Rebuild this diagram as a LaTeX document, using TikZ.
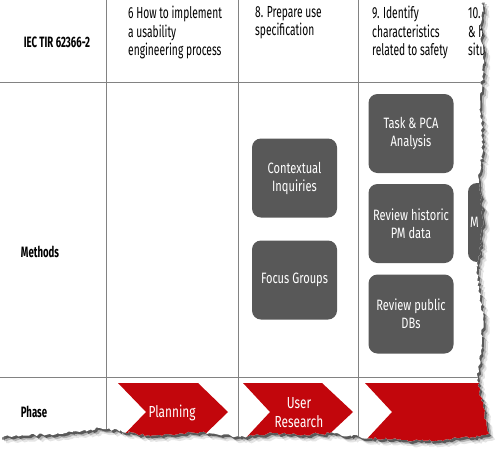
\documentclass[tikz,border=0pt]{standalone}
\usepackage{fontspec}
\setmainfont{Fira Sans}[FakeStretch=0.74]
\newfontfamily\hdrfont{Fira Sans}[FakeStretch=0.64]
\newfontfamily\lblfont{Fira Sans}[FakeStretch=0.64]
\usetikzlibrary{decorations.pathmorphing}
\definecolor{boxgray}{RGB}{88,88,88}
\definecolor{phasered}{RGB}{194,6,12}
\definecolor{gridgray}{RGB}{130,130,130}
\tikzset{
  grid/.style={draw=gridgray, line width=0.9pt},
  hdr/.style={anchor=north west, inner sep=0pt, align=left,
    font=\hdrfont\fontsize{16}{18.5}\selectfont},
  lbl/.style={inner sep=0pt, font=\lblfont\bfseries\fontsize{15}{18}\selectfont},
  mbox/.style={rounded corners=9pt, fill=boxgray, text=white, minimum width=85pt,
    minimum height=79pt, align=center, inner sep=2pt, font=\fontsize{15}{18}\selectfont},
  chev/.style={fill=phasered},
  ptext/.style={text=white, align=center, inner sep=0pt, font=\fontsize{16}{19}\selectfont},
}
\begin{document}
\begin{tikzpicture}[x=1pt,y=-1pt]
\useasboundingbox (0,0) rectangle (497,450);
\pgfmathsetseed{4711}
\path[save path=\paperpath] (0,0) -- (483,0)
  decorate[decoration={random steps,segment length=2.6pt,amplitude=1.5pt}]{
   -- (481,30) -- (484,60) -- (480,100) -- (483,140) -- (479,180) -- (483,220)
   -- (480,250) -- (477,270) -- (483,320) -- (481,350) -- (477,380) -- (483,407)
   -- (488,434) -- (473,437) -- (440,440) -- (407,440) -- (360,437) -- (330,433)
   -- (300,435) -- (273,433) -- (240,437) -- (200,432) -- (150,436) -- (100,428)
   -- (60,434) -- (30,435) -- (0,437)} -- cycle;
% shadow
\begin{scope}[transform canvas={shift={(6pt,-6pt)}}]
  \fill[black,opacity=0.10,use path=\paperpath];
\end{scope}
\begin{scope}[transform canvas={shift={(4pt,-4pt)}}]
  \fill[black,opacity=0.22,use path=\paperpath];
\end{scope}
\begin{scope}[transform canvas={shift={(2pt,-2.5pt)}}]
  \fill[black,opacity=0.50,use path=\paperpath];
\end{scope}
\fill[white,use path=\paperpath];
\begin{scope}
\clip[use path=\paperpath];
% grid
\draw[grid] (0,82) -- (497,82);
\draw[grid] (0,377) -- (497,377);
\draw[grid] (106,0) -- (106,450);
\draw[grid] (238,0) -- (238,450);
\draw[grid] (358,0) -- (358,450);
% headers
\node[lbl] (iec) at (57,42) {IEC\hspace{2.4pt}TIR\hspace{2.4pt}62366-2};
\node[hdr] (c1) at (128,6) {6 How to implement\\a usability\\engineering process};
\node[hdr] (c2) at (255,6) {8. Prepare use\\specification};
\node[hdr] (c3) at (372,6) {9. Identify\\characteristics\\related to safety};
\node[hdr] (c4) at (468,6) {10. Identify hazards\\\& hazardous\\situations};
% methods
\node[lbl] (methods) at (40,252) {Methods};
\node[mbox] (ci) at (294.5,178) {Contextual\\Inquiries};
\node[mbox] (fg) at (294.5,280) {Focus Groups};
\node[mbox] (tp) at (411,133.5) {Task \& PCA\\Analysis};
\node[mbox] (rh) at (411,223.5) {Review historic\\PM data};
\node[mbox] (rp) at (411,314) {Review public\\DBs};
\node[mbox, text width=81pt, align=left] (mx) at (510.5,222.5) {M};
% phase
\node[lbl] (phase) at (34,412) {Phase};
\fill[chev] (118,383) -- (198,383) -- (228,412) -- (198,441) -- (118,441) -- (146,412) -- cycle;
\node[ptext] (p1) at (172,413) {Planning};
\fill[chev] (243,383) -- (322,383) -- (353,412) -- (322,441) -- (243,441) -- (270,412) -- cycle;
\node[ptext] (p2) at (299,413) {User\\Research};
\fill[chev] (365,383) -- (520,383) -- (520,441) -- (365,441) -- (392,412) -- cycle;
\end{scope}
\end{tikzpicture}
\end{document}
